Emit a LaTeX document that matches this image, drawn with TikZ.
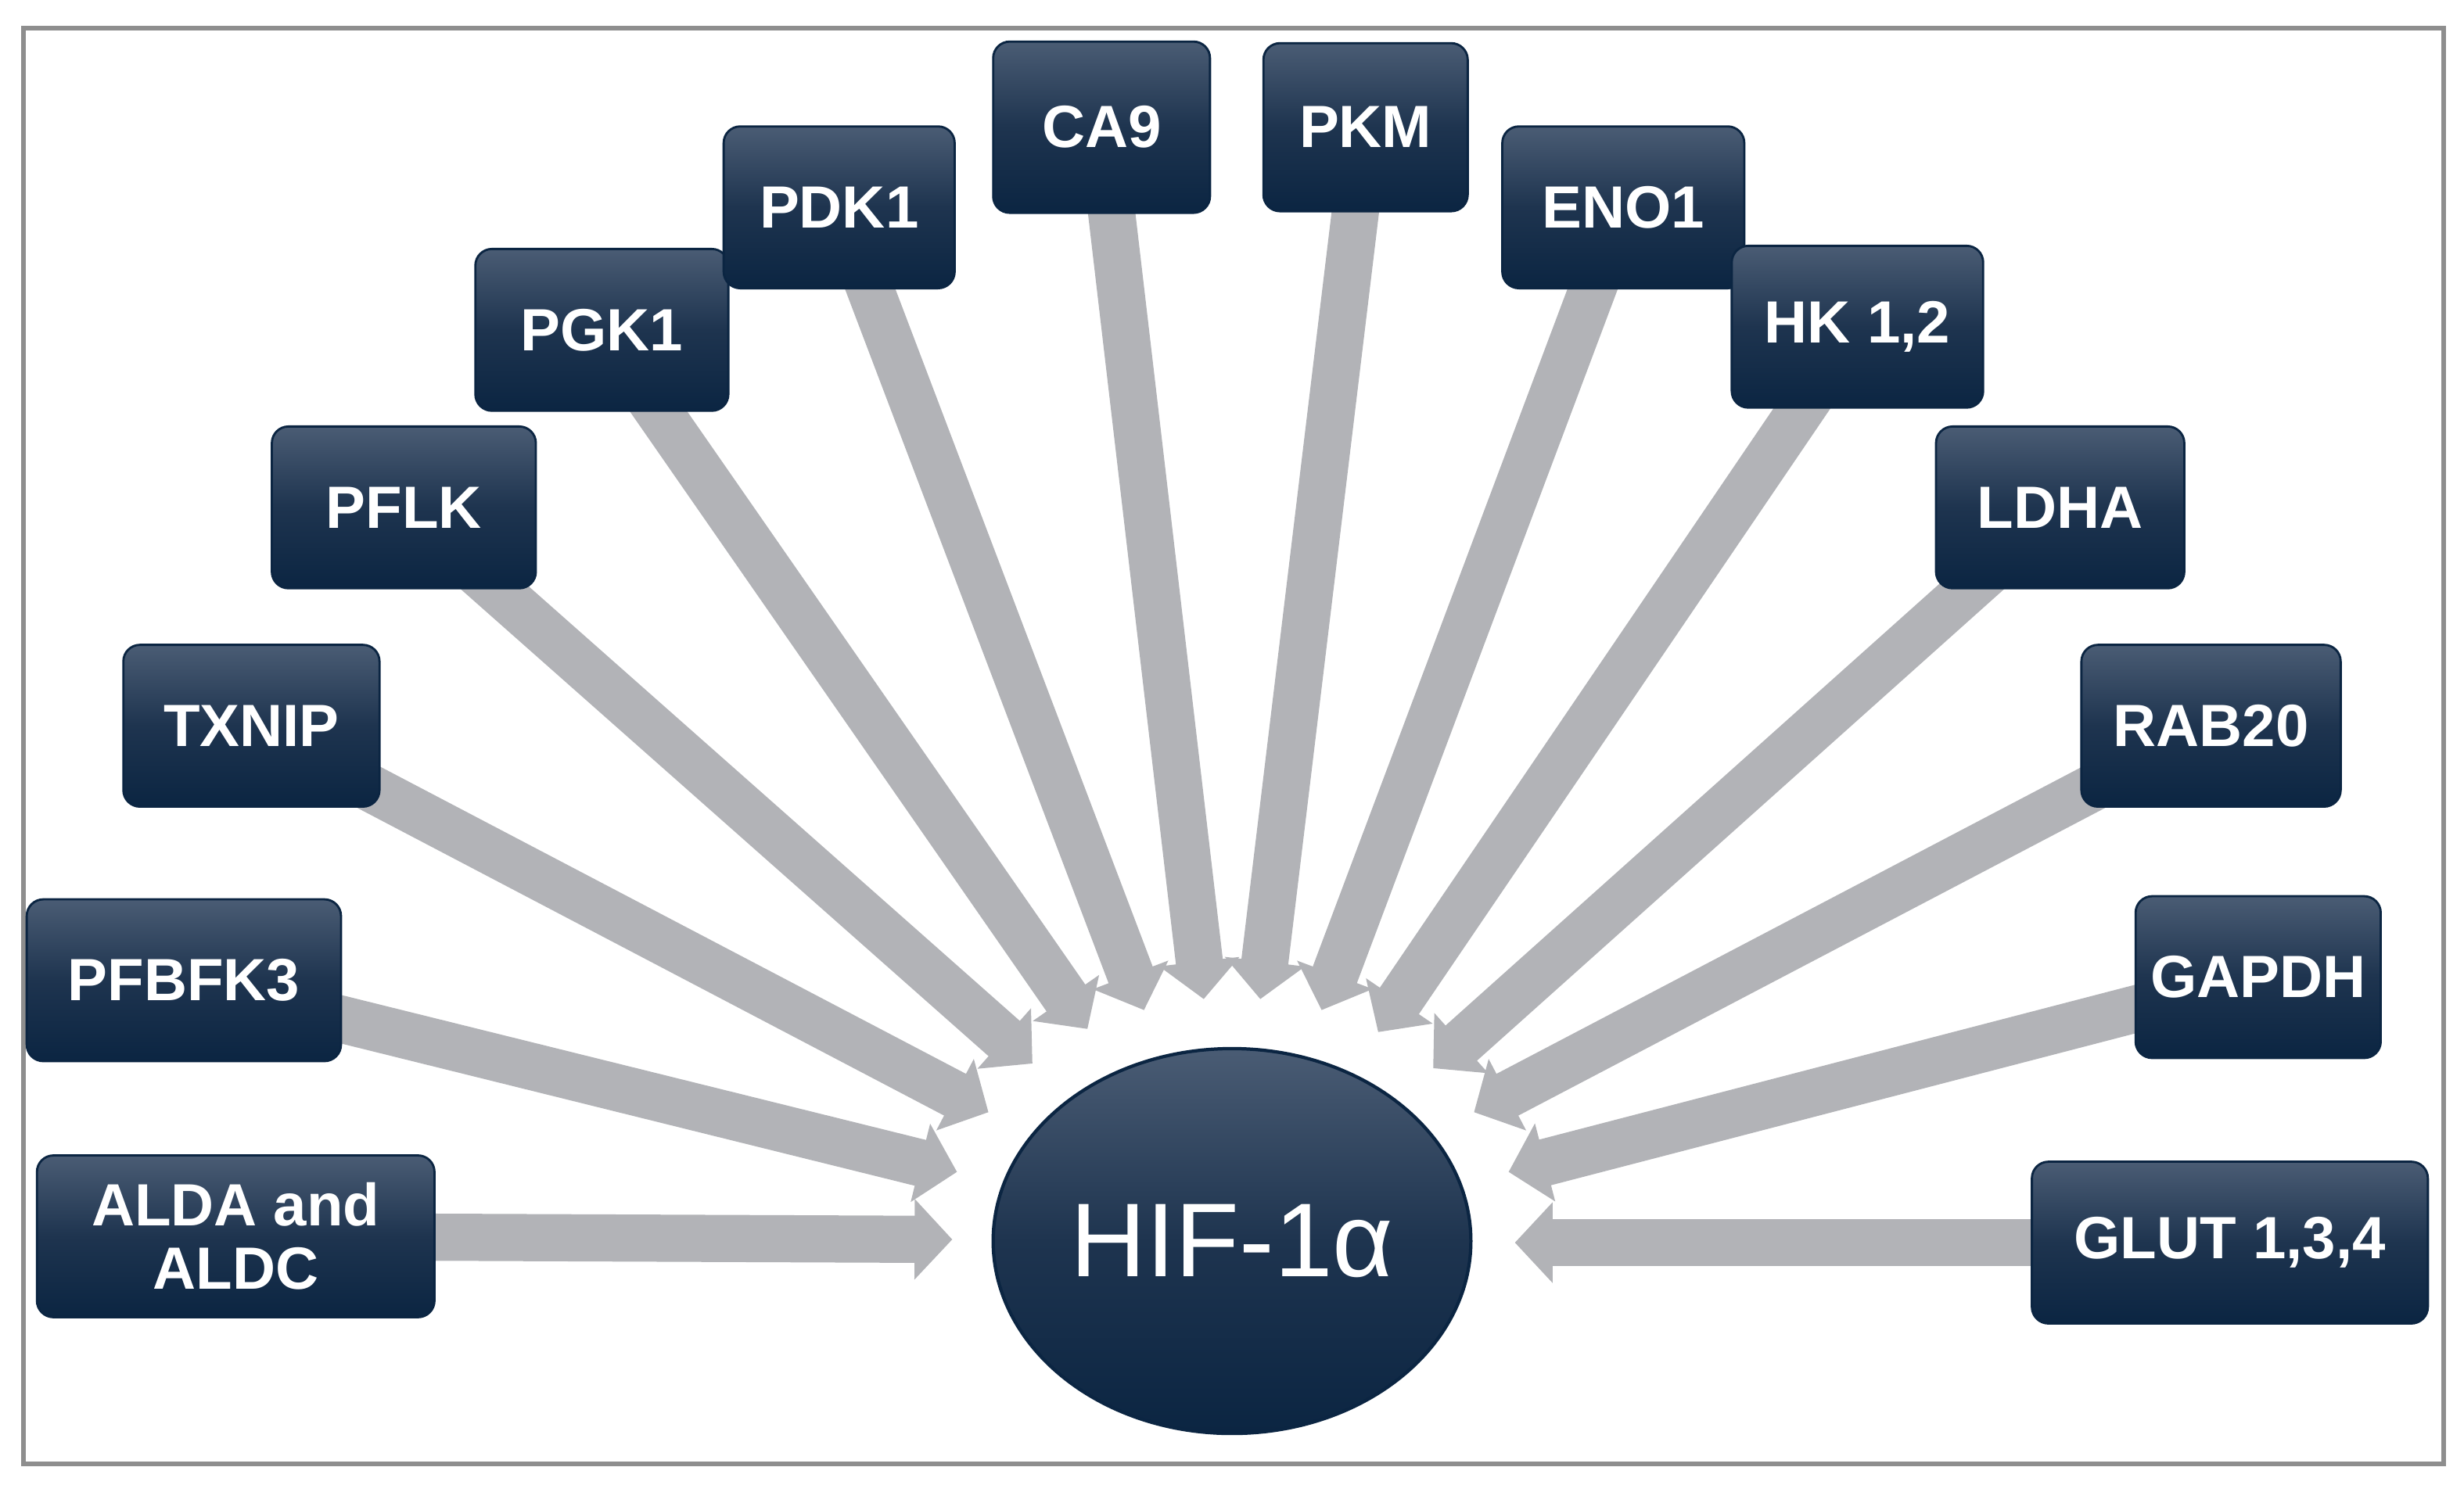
\documentclass[tikz,border=0pt]{standalone}
\usepackage{fontspec}
\setmainfont{Liberation Sans}
\usepackage{tikz}
\usetikzlibrary{arrows.meta, shapes.geometric, backgrounds}

\definecolor{boxtop}{HTML}{4A5C74}
\definecolor{boxmid}{HTML}{1E344F}
\definecolor{boxbot}{HTML}{0B2542}
\definecolor{arrowgray}{HTML}{B2B3B7}
\definecolor{framegray}{HTML}{8E8E8E}

\begin{document}
\begin{tikzpicture}[
    gene/.style={rectangle, rounded corners=3pt, top color=boxtop, bottom color=boxbot,
        middle color=boxmid, draw=boxbot, line width=0.4pt, text=white,
        font=\fontsize{10.8}{11.5}\selectfont\bfseries, align=center,
        minimum height=1.03cm, inner sep=2pt},
    hub/.style={ellipse, top color=boxtop, bottom color=boxbot, middle color=boxmid,
        draw=boxbot, line width=0.6pt, text=white, font=\fontsize{19}{21}\selectfont,
        minimum width=3.04cm, minimum height=2.45cm, inner sep=0pt},
    push/.style={-{Triangle[width=0.5cm, length=0.24cm]}, line width=0.3cm, arrowgray}
]

    \useasboundingbox (0,0) rectangle (15.68,9.45);

    % outer frame
    \draw[framegray, line width=0.8pt] (0.15,0.13) rectangle (15.55,9.27);

    % === Central node ===
    \node[hub] (hif) at (7.84,1.55) {HIF-1α};

    % === Gene boxes, left half ===
    \node[gene, minimum width=2.53cm] (alda)  at (1.50,1.58) {ALDA and\\ALDC};
    \node[gene, minimum width=2.00cm] (pfbfk) at (1.17,3.21) {PFBFK3};
    \node[gene, minimum width=1.63cm] (txnip) at (1.60,4.83) {TXNIP};
    \node[gene, minimum width=1.68cm] (pflk)  at (2.57,6.22) {PFLK};
    \node[gene, minimum width=1.61cm] (pgk)   at (3.83,7.35) {PGK1};
    \node[gene, minimum width=1.47cm] (pdk)   at (5.34,8.13) {PDK1};
    \node[gene, minimum width=1.38cm, minimum height=1.09cm] (ca9) at (7.01,8.64) {CA9};

    % === Gene boxes, right half ===
    \node[gene, minimum width=1.30cm, minimum height=1.07cm] (pkm) at (8.69,8.64) {PKM};
    \node[gene, minimum width=1.54cm] (eno)   at (10.33,8.13) {ENO1};
    \node[gene, minimum width=1.60cm] (hk)    at (11.82,7.37) {HK 1,2};
    \node[gene, minimum width=1.58cm] (ldha)  at (13.11,6.22) {LDHA};
    \node[gene, minimum width=1.65cm] (rab)   at (14.07,4.83) {RAB20};
    \node[gene, minimum width=1.56cm] (gapdh) at (14.37,3.23) {GAPDH};
    \node[gene, minimum width=2.52cm] (glut)  at (14.19,1.54) {GLUT 1,3,4};

    % === Arrow tips around the hub ===
    \coordinate (tAlda)  at (6.06,1.56);
    \coordinate (tPfbfk) at (6.09,1.99);
    \coordinate (tTxnip) at (6.29,2.37);
    \coordinate (tPflk)  at (6.57,2.68);
    \coordinate (tPgk)   at (6.92,2.90);
    \coordinate (tPdk)   at (7.28,3.02);
    \coordinate (tCa9)   at (7.66,3.09);
    \coordinate (tPkm)   at (8.02,3.09);
    \coordinate (tEno)   at (8.41,3.02);
    \coordinate (tHk)    at (8.77,2.88);
    \coordinate (tLdha)  at (9.12,2.65);
    \coordinate (tRab)   at (9.38,2.37);
    \coordinate (tGapdh) at (9.60,1.99);
    \coordinate (tGlut)  at (9.64,1.54);

    % === Arrows, drawn behind the boxes ===
    \begin{scope}[on background layer]
        \draw[push] (alda.center)  -- (tAlda);
        \draw[push] (pfbfk.center) -- (tPfbfk);
        \draw[push] (txnip.center) -- (tTxnip);
        \draw[push] (pflk.center)  -- (tPflk);
        \draw[push] (pgk.center)   -- (tPgk);
        \draw[push] (pdk.center)   -- (tPdk);
        \draw[push] (ca9.center)   -- (tCa9);
        \draw[push] (pkm.center)   -- (tPkm);
        \draw[push] (eno.center)   -- (tEno);
        \draw[push] (hk.center)    -- (tHk);
        \draw[push] (ldha.center)  -- (tLdha);
        \draw[push] (rab.center)   -- (tRab);
        \draw[push] (gapdh.center) -- (tGapdh);
        \draw[push] (glut.center)  -- (tGlut);
    \end{scope}

\end{tikzpicture}
\end{document}
